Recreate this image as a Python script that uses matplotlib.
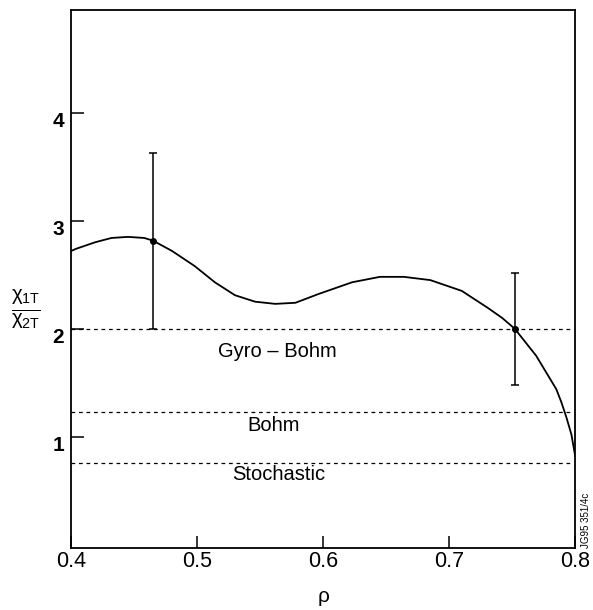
import matplotlib
matplotlib.use("Agg")
import matplotlib.pyplot as plt
from matplotlib.transforms import ScaledTranslation

plt.rcParams.update(
    {
        "font.family": ["Liberation Sans", "DejaVu Sans"],
        "font.size": 13,
        "mathtext.fontset": "custom",
        "mathtext.rm": "Liberation Sans",
        "mathtext.it": "Liberation Sans",
        "mathtext.bf": "Liberation Sans:bold",
        "axes.linewidth": 1.3,
    }
)

# curve
rho = [0.400, 0.404, 0.419, 0.432, 0.445, 0.458, 0.465, 0.480, 0.498, 0.514,
       0.530, 0.546, 0.562, 0.578, 0.596, 0.623, 0.645, 0.664, 0.685, 0.710,
       0.731, 0.742, 0.752, 0.769, 0.785, 0.789, 0.793, 0.797, 0.800]
ratio = [2.72, 2.74, 2.80, 2.84, 2.85, 2.84, 2.815, 2.72, 2.58, 2.43,
         2.31, 2.25, 2.23, 2.24, 2.32, 2.43, 2.48, 2.48, 2.45, 2.35,
         2.19, 2.10, 2.00, 1.75, 1.44, 1.32, 1.18, 1.02, 0.82]

# measured points with error bars
pt_rho = [0.465, 0.752]
pt_val = [2.815, 2.00]
pt_lo = [2.00, 1.48]
pt_hi = [3.63, 2.52]

# reference levels
levels = [2.0, 1.23, 0.76]
level_names = ["Gyro \u2013 Bohm", "Bohm", "Stochastic"]
label_x = [0.564, 0.561, 0.565]
label_y = [1.79, 1.10, 0.65]

fig = plt.figure(figsize=(5.93, 6.10), dpi=100)
ax = fig.add_axes([0.120, 0.1016, 0.850, 0.882])

ax.plot(rho, ratio, color="black", lw=1.3)
err = [[v - lo for v, lo in zip(pt_val, pt_lo)], [hi - v for v, hi in zip(pt_val, pt_hi)]]
ax.errorbar(pt_rho, pt_val, yerr=err, fmt="o", color="black", ms=4,
            elinewidth=1.1, capsize=3, capthick=1.1, mfc="black")

for lev in levels:
    ax.hlines(lev, 0.4, 0.797, colors="black", linestyles=(0, (3, 3)), lw=0.9)
for name, x, y in zip(level_names, label_x, label_y):
    ax.text(x, y, name, ha="center", va="center", fontsize=14.5)

ax.set_xlim(0.4, 0.8)
ax.set_ylim(-0.03, 4.95)
ax.set_xticks([0.4, 0.5, 0.6, 0.7, 0.8])
ax.set_xticklabels(["0.4", "0.5", "0.6", "0.7", "0.8"])
ax.set_yticks([1, 2, 3, 4])
ax.tick_params(direction="in", length=9, width=1.1)
ax.tick_params(axis="x", labelsize=15.5, pad=2)
ax.tick_params(axis="y", labelsize=15, pad=5)
shift = ScaledTranslation(0, -0.07, fig.dpi_scale_trans)
for lab in ax.get_yticklabels():
    lab.set_fontweight("bold")
    lab.set_transform(lab.get_transform() + shift)

ax.set_xlabel("\u03c1", fontsize=15, labelpad=11)
ax.text(-0.089, 0.444, r"$\frac{\chi_{1\mathrm{T}}}{\chi_{2\mathrm{T}}}$",
        transform=ax.transAxes, ha="center", va="center", fontsize=21)

ax.text(1.012, 0.0, "JG95 351/4c", transform=ax.transAxes, rotation=90,
        ha="left", va="bottom", fontsize=7)

fig.savefig("out.png", dpi=100)
